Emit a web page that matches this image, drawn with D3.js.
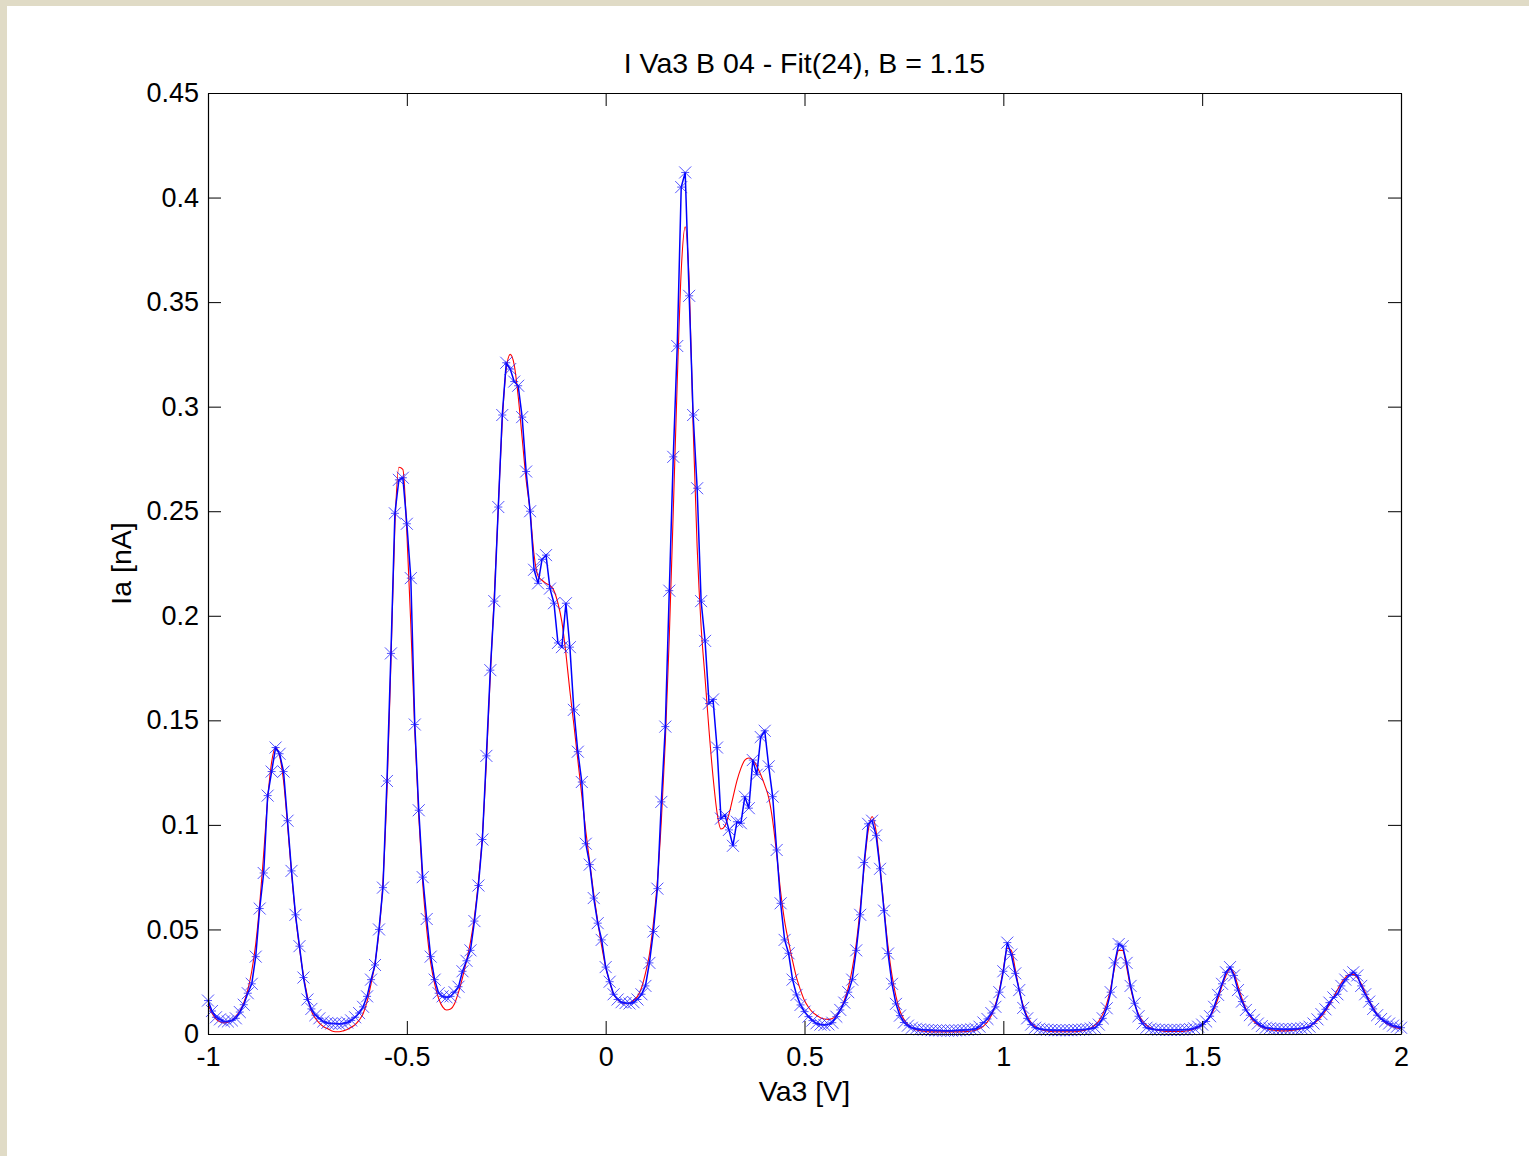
<!DOCTYPE html>
<html><head><meta charset="utf-8">
<script src="https://cdn.jsdelivr.net/npm/d3@7"></script>
<style>html,body{margin:0;padding:0;background:#fff;} svg{display:block;}</style>
</head><body>
<svg id="chart" width="1529" height="1156"></svg>
<script>
const titleText = "I Va3 B 04 - Fit(24), B = 1.15";
const xLabelText = "Va3 [V]";
const yLabelText = "Ia [nA]";
const xTicks = [-1, -0.5, 0, 0.5, 1, 1.5, 2];
const xTickLabels = ["-1", "-0.5", "0", "0.5", "1", "1.5", "2"];
const yTicks = [0, 0.05, 0.1, 0.15, 0.2, 0.25, 0.3, 0.35, 0.4, 0.45];
const yTickLabels = ["0", "0.05", "0.1", "0.15", "0.2", "0.25", "0.3", "0.35", "0.4", "0.45"];

// Voltage sweep: -1 V to 2 V in 10 mV steps (301 samples)
const sweepStart = -1;
const sweepStep = 0.01;

// Measured Ia [nA] (blue, markers)
const measured = [
  0.016, 0.011, 0.008, 0.007, 0.006, 0.006, 0.0065, 0.0075, 0.0105, 0.014,
  0.0195, 0.024, 0.037, 0.060, 0.077, 0.114, 0.1255, 0.137, 0.134, 0.1255,
  0.102, 0.078, 0.057, 0.042, 0.027, 0.0165, 0.012, 0.009, 0.0075, 0.006,
  0.0053, 0.005, 0.005, 0.0048, 0.005, 0.0055, 0.0065, 0.008, 0.010, 0.013,
  0.018, 0.026, 0.033, 0.050, 0.070, 0.121, 0.182, 0.249, 0.265, 0.266,
  0.244, 0.218, 0.148, 0.107, 0.075, 0.055, 0.037, 0.026, 0.0195, 0.018,
  0.0175, 0.018, 0.020, 0.0226, 0.030, 0.035, 0.040, 0.054, 0.071, 0.093,
  0.133, 0.174, 0.207, 0.252, 0.296, 0.321, 0.318, 0.312, 0.310, 0.295,
  0.269, 0.250, 0.222, 0.2155, 0.227, 0.229, 0.213, 0.206, 0.187, 0.185,
  0.206, 0.185, 0.155, 0.135, 0.1205, 0.091, 0.081, 0.065, 0.053, 0.045,
  0.032, 0.025, 0.019, 0.0165, 0.0152, 0.0148, 0.0146, 0.0152, 0.0165, 0.019,
  0.023, 0.034, 0.049, 0.0695, 0.111, 0.147, 0.212, 0.276, 0.329, 0.405,
  0.412, 0.353, 0.296, 0.261, 0.207, 0.188, 0.158, 0.160, 0.137, 0.103,
  0.1047, 0.0976, 0.090, 0.1015, 0.1008, 0.1135, 0.108, 0.131, 0.124, 0.142,
  0.145, 0.128, 0.1135, 0.088, 0.0625, 0.045, 0.0386, 0.026, 0.0187, 0.0139,
  0.0107, 0.0083, 0.0064, 0.0051, 0.0045, 0.0043, 0.0046, 0.0054, 0.0083, 0.0115,
  0.015, 0.020, 0.026, 0.040, 0.057, 0.082, 0.1005, 0.102, 0.095, 0.079,
  0.059, 0.0385, 0.024, 0.0144, 0.0088, 0.0055, 0.004, 0.003, 0.0025, 0.0022,
  0.002, 0.0019, 0.0018, 0.0017, 0.0017, 0.0016, 0.0016, 0.0016, 0.0017, 0.0018,
  0.0019, 0.002, 0.0022, 0.0025, 0.0035, 0.0055, 0.0072, 0.010, 0.013, 0.020,
  0.030, 0.0437, 0.038, 0.029, 0.021, 0.0125, 0.0075, 0.0045, 0.003, 0.0025,
  0.0022, 0.002, 0.0019, 0.0018, 0.0018, 0.0018, 0.0018, 0.0018, 0.0019, 0.002,
  0.0021, 0.0023, 0.0026, 0.003, 0.0045, 0.0075, 0.0123, 0.020, 0.034, 0.043,
  0.042, 0.034, 0.023, 0.0147, 0.0085, 0.005, 0.003, 0.0025, 0.0022, 0.002,
  0.002, 0.0019, 0.0019, 0.0019, 0.002, 0.002, 0.0021, 0.0023, 0.0027, 0.0035,
  0.0045, 0.006, 0.0085, 0.013, 0.0187, 0.024, 0.0295, 0.032, 0.028, 0.021,
  0.0155, 0.0115, 0.009, 0.0068, 0.005, 0.0038, 0.003, 0.0027, 0.0025, 0.0024,
  0.0023, 0.0023, 0.0023, 0.0024, 0.0025, 0.0027, 0.003, 0.0035, 0.005, 0.007,
  0.0095, 0.0118, 0.015, 0.0175, 0.019, 0.023, 0.026, 0.028, 0.0295, 0.028,
  0.023, 0.019, 0.0155, 0.012, 0.009, 0.0072, 0.006, 0.005, 0.004, 0.0035,
  0.003
];

// Fit(24) Ia [nA] (red line)
const fitted = [
  0.0145, 0.010, 0.0072, 0.0058, 0.0053, 0.0056, 0.0065, 0.0085, 0.011, 0.015,
  0.021, 0.030, 0.043, 0.062, 0.086, 0.112, 0.130, 0.137, 0.133, 0.121,
  0.100, 0.077, 0.057, 0.041, 0.028, 0.018, 0.011, 0.0075, 0.0052, 0.0036,
  0.0026, 0.0016, 0.0011, 0.0011, 0.0015, 0.0022, 0.0032, 0.0045, 0.0066, 0.0097,
  0.0155, 0.024, 0.034, 0.049, 0.073, 0.116, 0.178, 0.243, 0.271, 0.270,
  0.240, 0.196, 0.145, 0.104, 0.072, 0.050, 0.034, 0.024, 0.017, 0.013,
  0.0115, 0.012, 0.0145, 0.020, 0.027, 0.035, 0.044, 0.056, 0.073, 0.095,
  0.130, 0.172, 0.210, 0.252, 0.293, 0.318, 0.325, 0.320, 0.305, 0.285,
  0.265, 0.250, 0.229, 0.219, 0.217, 0.2155, 0.2145, 0.212, 0.206, 0.197,
  0.182, 0.164, 0.148, 0.131, 0.114, 0.097, 0.082, 0.067, 0.054, 0.042,
  0.032, 0.025, 0.019, 0.0165, 0.015, 0.0145, 0.0148, 0.016, 0.018, 0.022,
  0.029, 0.038, 0.053, 0.073, 0.102, 0.140, 0.190, 0.250, 0.312, 0.365,
  0.386, 0.360, 0.290, 0.233, 0.195, 0.170, 0.145, 0.123, 0.106, 0.098,
  0.0995, 0.105, 0.113, 0.121, 0.127, 0.131, 0.132, 0.131, 0.128, 0.124,
  0.119, 0.113, 0.102, 0.086, 0.068, 0.054, 0.044, 0.035, 0.027, 0.021,
  0.016, 0.0128, 0.0105, 0.009, 0.0078, 0.0072, 0.007, 0.0074, 0.0088, 0.0115,
  0.016, 0.022, 0.031, 0.043, 0.060, 0.080, 0.097, 0.104, 0.097, 0.080,
  0.060, 0.042, 0.028, 0.018, 0.011, 0.007, 0.0045, 0.003, 0.0021, 0.0016,
  0.0013, 0.0011, 0.001, 0.001, 0.001, 0.001, 0.001, 0.001, 0.001, 0.001,
  0.0011, 0.0012, 0.0014, 0.0018, 0.0026, 0.0038, 0.0058, 0.009, 0.014, 0.021,
  0.031, 0.041, 0.040, 0.031, 0.021, 0.0135, 0.0085, 0.0055, 0.0036, 0.0025,
  0.0018, 0.0014, 0.0012, 0.0011, 0.0011, 0.0011, 0.0011, 0.0011, 0.0011, 0.0013,
  0.0016, 0.0021, 0.0029, 0.0042, 0.0062, 0.0095, 0.0145, 0.022, 0.032, 0.040,
  0.040, 0.032, 0.022, 0.0145, 0.0095, 0.0062, 0.0042, 0.003, 0.0022, 0.0017,
  0.0014, 0.0012, 0.0012, 0.0012, 0.0012, 0.0012, 0.0014, 0.0018, 0.0024, 0.0032,
  0.0044, 0.006, 0.0085, 0.012, 0.017, 0.023, 0.028, 0.031, 0.029, 0.023,
  0.017, 0.012, 0.0085, 0.006, 0.0044, 0.0033, 0.0026, 0.0021, 0.0018, 0.0016,
  0.0015, 0.0015, 0.0016, 0.0018, 0.0021, 0.0025, 0.003, 0.0038, 0.0049, 0.0064,
  0.0084, 0.011, 0.014, 0.0175, 0.021, 0.0245, 0.027, 0.0285, 0.0285, 0.027,
  0.024, 0.020, 0.016, 0.0125, 0.0095, 0.0072, 0.0055, 0.0043, 0.0035, 0.0029,
  0.0025
];

const W = 1529, H = 1156;
const plot = {left: 208, right: 1401, top: 93, bottom: 1034};
const FONT = "'Liberation Sans', Arial, Helvetica, sans-serif";
const FS_TICK = 27;
const FS_LABEL = 28.5;

const svg = d3.select("#chart");
svg.append("rect").attr("x", 0).attr("y", 0).attr("width", W).attr("height", H).attr("fill", "#ffffff");
svg.append("rect").attr("x", 0).attr("y", 0).attr("width", W).attr("height", 6).attr("fill", "#e0dbc6");
svg.append("rect").attr("x", 0).attr("y", 0).attr("width", 7).attr("height", H).attr("fill", "#e0dbc6");

const x = d3.scaleLinear().domain([-1, 2]).range([plot.left, plot.right]);
const y = d3.scaleLinear().domain([0, 0.45]).range([plot.bottom, plot.top]);

const va = i => sweepStart + i * sweepStep;
const measPts = measured.map((v, i) => [va(i), v]);
const fitPts = fitted.map((v, i) => [va(i), v]);

// Fit line (red)
const lineFit = d3.line().x(d => x(d[0])).y(d => y(d[1])).curve(d3.curveMonotoneX);
svg.append("path").datum(fitPts).attr("d", lineFit)
  .attr("fill", "none").attr("stroke", "#ff0000").attr("stroke-width", 1.1);

// Measured line (blue)
const lineMeas = d3.line().x(d => x(d[0])).y(d => y(d[1]));
svg.append("path").datum(measPts).attr("d", lineMeas)
  .attr("fill", "none").attr("stroke", "#0000ff").attr("stroke-width", 1.5);

// Markers (x)
svg.append("g").selectAll("path").data(measPts).join("path")
  .attr("transform", d => `translate(${x(d[0])},${y(d[1])})`)
  .attr("d", "M-6,-6L6,6M-6,6L6,-6M-4,0H4")
  .attr("fill", "none").attr("stroke", "#1a1aff").attr("stroke-width", 1).attr("stroke-opacity", 0.75);

// Axes
const fmtX = (d, i) => xTickLabels[i];
const fmtY = (d, i) => yTickLabels[i];
const TL = 13;
const gB = svg.append("g").attr("transform", `translate(0,${plot.bottom})`)
  .call(d3.axisBottom(x).tickValues(xTicks).tickFormat(fmtX).tickSizeInner(-TL).tickSizeOuter(0).tickPadding(13));
const gT = svg.append("g").attr("transform", `translate(0,${plot.top})`)
  .call(d3.axisTop(x).tickValues(xTicks).tickFormat(() => "").tickSizeInner(-TL).tickSizeOuter(0));
const gL = svg.append("g").attr("transform", `translate(${plot.left},0)`)
  .call(d3.axisLeft(y).tickValues(yTicks).tickFormat(fmtY).tickSizeInner(-TL).tickSizeOuter(0).tickPadding(9));
const gR = svg.append("g").attr("transform", `translate(${plot.right},0)`)
  .call(d3.axisRight(y).tickValues(yTicks).tickFormat(() => "").tickSizeInner(-TL).tickSizeOuter(0));

[gB, gT, gL, gR].forEach(g => {
  g.selectAll("path.domain").attr("stroke", "#000").attr("stroke-width", 1.2);
  g.selectAll(".tick line").attr("stroke", "#000").attr("stroke-width", 1);
  g.selectAll("text").attr("font-family", FONT).attr("font-size", FS_TICK).attr("fill", "#000");
});

// Title and labels
svg.append("text").attr("x", (plot.left + plot.right) / 2).attr("y", 73)
  .attr("text-anchor", "middle").attr("font-family", FONT).attr("font-size", FS_LABEL).attr("fill", "#000")
  .text(titleText);
svg.append("text").attr("x", (plot.left + plot.right) / 2).attr("y", 1101)
  .attr("text-anchor", "middle").attr("font-family", FONT).attr("font-size", FS_LABEL).attr("fill", "#000")
  .text(xLabelText);
svg.append("text").attr("transform", `translate(131,${(plot.top + plot.bottom) / 2}) rotate(-90)`)
  .attr("text-anchor", "middle").attr("font-family", FONT).attr("font-size", FS_LABEL).attr("fill", "#000")
  .text(yLabelText);
</script>
</body></html>
